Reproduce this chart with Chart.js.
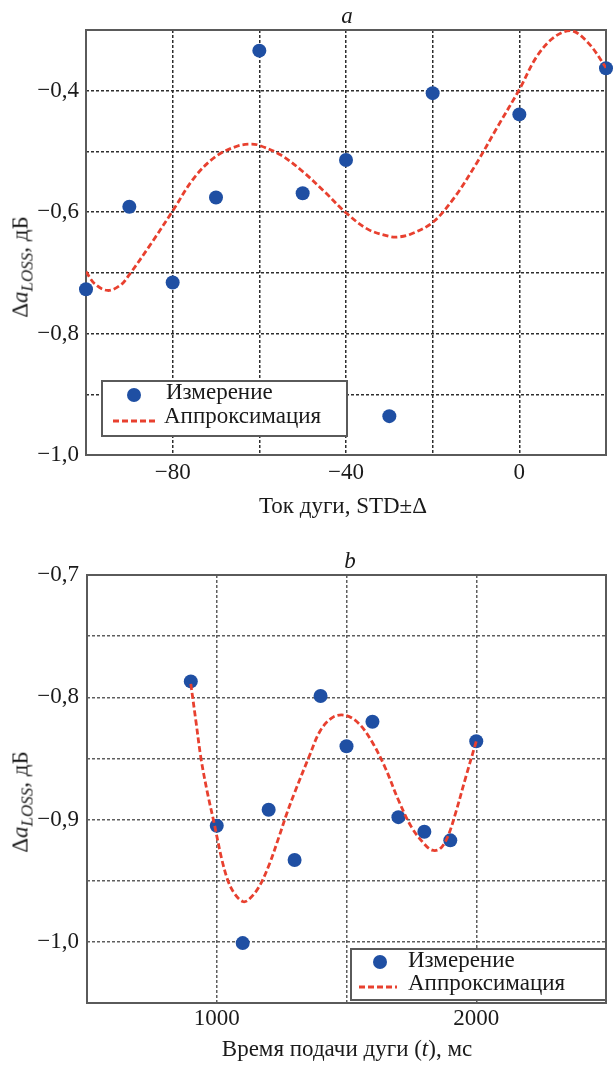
<!DOCTYPE html>
<html lang="ru"><head><meta charset="utf-8">
<title>Δa LOSS</title>
<script src="https://cdn.jsdelivr.net/npm/chart.js@4.4.1/dist/chart.umd.min.js"></script>
<style>
html,body{margin:0;padding:0;background:#fff}
#wrap{position:relative;width:613px;height:1065px;overflow:hidden;font-family:"Liberation Serif","Times New Roman",serif;color:#1a1a1a}
canvas{position:absolute;left:0}
.txt{position:absolute;font-size:23px;line-height:23px;white-space:nowrap}
.cx{transform:translateX(-50%)}
.rot{transform:translate(-50%,-50%) rotate(-90deg)}
.sub{font-size:17px;font-style:italic;vertical-align:-5px;line-height:0}
.leg{position:absolute;border:2px solid #5a5a5a;background:#fff;box-sizing:border-box}
.dot{position:absolute;width:14px;height:14px;border-radius:50%;background:#1f4fa3;transform:translate(-50%,-50%)}
.dash{position:absolute;height:6px;transform:translateY(-50%)}
</style></head>
<body>
<div id="wrap">
  <canvas id="c1" width="613" height="530" style="top:0"></canvas>
  <canvas id="c2" width="613" height="525" style="top:540px"></canvas>

  <div class="txt cx" style="left:347px;top:4px"><i>a</i></div>
  <div class="txt rot" style="left:20px;top:267px">Δ<i>a</i><span class="sub">LOSS</span>, дБ</div>
  <div class="txt cx" style="left:343px;top:494px">Ток дуги, STD±Δ</div>
  <div class="leg" style="left:101px;top:380px;width:247px;height:57px"></div>
  <div class="dot" style="left:134px;top:395px"></div>
  <svg class="dash" style="left:113px;top:421px" width="42" height="6"><line x1="0" y1="3" x2="42" y2="3" stroke="#e8402f" stroke-width="2.8" stroke-dasharray="6,3"/></svg>
  <div class="txt" style="left:166px;top:380px">Измерение</div>
  <div class="txt" style="left:164px;top:404px">Аппроксимация</div>

  <div class="txt cx" style="left:350px;top:549px"><i>b</i></div>
  <div class="txt rot" style="left:20px;top:802px">Δ<i>a</i><span class="sub">LOSS</span>, дБ</div>
  <div class="txt cx" style="left:347px;top:1037px">Время подачи дуги (<i>t</i>), мс</div>
  <div class="leg" style="left:350px;top:948px;width:257px;height:53px"></div>
  <div class="dot" style="left:380px;top:962px"></div>
  <svg class="dash" style="left:359px;top:987px" width="38" height="6"><line x1="0" y1="3" x2="38" y2="3" stroke="#e8402f" stroke-width="2.8" stroke-dasharray="6,3"/></svg>
  <div class="txt" style="left:408px;top:948px">Измерение</div>
  <div class="txt" style="left:408px;top:971px">Аппроксимация</div>
</div>
<script>
// ---- Chart a: arc current ----
const topCurrent = [-100, -90, -80, -70, -60, -50, -40, -30, -20, 0, 20];
const topLoss = [-0.727, -0.591, -0.716, -0.576, -0.334, -0.569, -0.514, -0.936, -0.404, -0.439, -0.363];
const topFitX = [-100, -98, -95, -92, -90, -85, -80, -75, -70, -65, -62, -60, -55, -50, -45, -40, -35, -30, -28, -25, -20, -15, -10, -5, 0, 4, 8, 12, 16, 20];
const topFitY = [-0.698, -0.718, -0.729, -0.720, -0.703, -0.652, -0.598, -0.543, -0.508, -0.491, -0.488, -0.490, -0.506, -0.533, -0.566, -0.601, -0.628, -0.640, -0.641, -0.636, -0.617, -0.576, -0.521, -0.459, -0.398, -0.344, -0.312, -0.301, -0.322, -0.362];
const topXTickLabels = [-80, -40, 0];
const topYTickLabels = [-1.0, -0.8, -0.6, -0.4];

// ---- Chart b: arc feed time ----
const bottomTime = [900, 1000, 1100, 1200, 1300, 1400, 1500, 1600, 1700, 1800, 1900, 2000];
const bottomLoss = [-0.787, -0.905, -1.001, -0.892, -0.933, -0.799, -0.840, -0.820, -0.898, -0.910, -0.917, -0.836];
const bottomFitX = [900, 920, 940, 965, 990, 1020, 1045, 1070, 1100, 1120, 1160, 1200, 1240, 1270, 1300, 1355, 1400, 1450, 1500, 1550, 1600, 1650, 1700, 1750, 1800, 1830, 1860, 1890, 1920, 1960, 2000];
const bottomFitY = [-0.789, -0.820, -0.851, -0.879, -0.903, -0.933, -0.951, -0.961, -0.967, -0.966, -0.956, -0.938, -0.914, -0.895, -0.878, -0.849, -0.827, -0.816, -0.815, -0.822, -0.837, -0.858, -0.884, -0.906, -0.920, -0.925, -0.924, -0.914, -0.895, -0.865, -0.836];
const bottomXTickLabels = [1000, 2000];
const bottomYTickLabels = [-1.0, -0.9, -0.8, -0.7];

const seriesNames = ['Измерение', 'Аппроксимация'];
const FONT = '"Liberation Serif", "Times New Roman", serif';
const BLUE = '#1f4fa3', RED = '#e8402f';

function fmtY(v) { return v.toFixed(1).replace('.', ',').replace('-', '\u2212'); }
function fmtX(v) { return String(Math.round(v)).replace('-', '\u2212'); }
function near(list, v) { return list.some(t => Math.abs(t - v) < 1e-6); }

const framePlugin = {
  id: 'frame',
  beforeDatasetsDraw(chart) {
    const a = chart.chartArea, ctx = chart.ctx;
    ctx.save();
    ctx.strokeStyle = '#5a5a5a';
    ctx.lineWidth = 2;
    ctx.setLineDash([]);
    ctx.strokeRect(a.left, a.top, a.right - a.left, a.bottom - a.top);
    ctx.restore();
  }
};

function makeChart(id, cfg) {
  const pts = cfg.xs.map((x, i) => ({x, y: cfg.ys[i]}));
  const fit = cfg.fx.map((x, i) => ({x, y: cfg.fy[i]}));
  return new Chart(document.getElementById(id), {
    type: 'scatter',
    data: {
      datasets: [
        {label: seriesNames[0], data: pts, backgroundColor: BLUE, borderColor: BLUE, borderWidth: 0,
         pointRadius: 7, pointHoverRadius: 7, order: 1, clip: false},
        {label: seriesNames[1], data: fit, showLine: true, borderColor: RED, borderWidth: 2.8,
         borderDash: [6, 3], pointRadius: 0, tension: 0.35, fill: false, order: 0}
      ]
    },
    options: {
      responsive: false, animation: false, devicePixelRatio: 1,
      layout: {padding: cfg.padding},
      plugins: {legend: {display: false}, tooltip: {enabled: false}, title: {display: false}},
      scales: {
        x: {
          type: 'linear', min: cfg.xmin, max: cfg.xmax,
          afterFit(s) { s.height = cfg.xh; },
          ticks: {stepSize: cfg.xstep, autoSkip: false, maxRotation: 0, padding: cfg.xpad, color: '#1a1a1a',
                  font: {family: FONT, size: 23},
                  callback: v => near(cfg.xlabels, v) ? fmtX(v) : ''},
          grid: {color: cfg.grid, lineWidth: 1.5, drawTicks: false},
          border: {display: false, dash: [3, 2]}
        },
        y: {
          min: cfg.ymin, max: cfg.ymax,
          afterFit(s) { s.width = cfg.yw; },
          ticks: {stepSize: cfg.ystep, autoSkip: false, padding: cfg.ypad, color: '#1a1a1a',
                  font: {family: FONT, size: 23},
                  callback: v => near(cfg.ylabels, v) ? fmtY(v) : ''},
          grid: {color: cfg.grid, lineWidth: 1.5, drawTicks: false},
          border: {display: false, dash: [3, 2]}
        }
      }
    },
    plugins: [framePlugin]
  });
}

makeChart('c1', {
  xs: topCurrent, ys: topLoss, fx: topFitX, fy: topFitY,
  xmin: -100, xmax: 20, xstep: 20, xlabels: topXTickLabels,
  ymin: -1.0, ymax: -0.3, ystep: 0.1, ylabels: topYTickLabels,
  padding: {top: 30, right: 3, left: 0, bottom: 0}, xh: 75, yw: 86, xpad: 4, ypad: 7, grid: '#2e2e2e'
});
makeChart('c2', {
  xs: bottomTime, ys: bottomLoss, fx: bottomFitX, fy: bottomFitY,
  xmin: 500, xmax: 2500, xstep: 500, xlabels: bottomXTickLabels,
  ymin: -1.05, ymax: -0.7, ystep: 0.05, ylabels: bottomYTickLabels,
  padding: {top: 35, right: 1, left: 0, bottom: 0}, xh: 62, yw: 87, xpad: 2, ypad: 8, grid: '#5e5e5e'
});
</script>
</body></html>
